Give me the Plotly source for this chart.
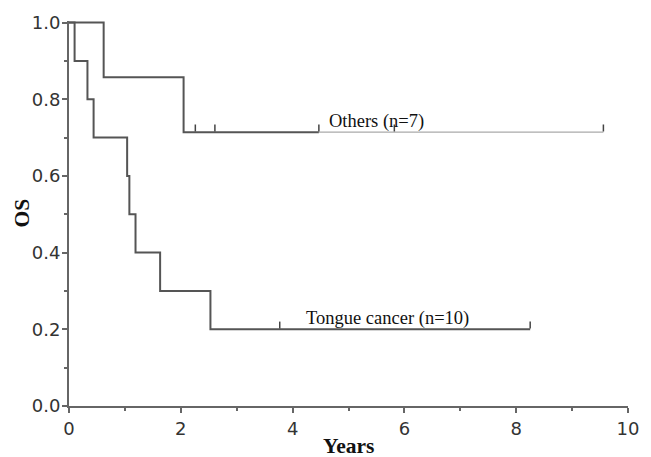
import plotly.graph_objects as go

# ---- data ----
others_event_times = [0.0, 0.62, 2.05]
others_survival = [1.0, 0.857, 0.714]
others_end_time = 9.56
others_censor_times = [2.26, 2.61, 4.47, 5.82, 9.56]

tongue_event_times = [0.0, 0.10, 0.33, 0.44, 1.04, 1.08, 1.19, 1.63, 2.53]
tongue_survival = [1.0, 0.9, 0.8, 0.7, 0.6, 0.5, 0.4, 0.3, 0.2]
tongue_end_time = 8.25
tongue_censor_times = [3.77, 8.25]

x_ticks = [0, 2, 4, 6, 8, 10]
y_ticks = [0.0, 0.2, 0.4, 0.6, 0.8, 1.0]
others_label = "Others (n=7)"
tongue_label = "Tongue cancer (n=10)"


def step_path(times, surv, end):
    xs, ys = [], []
    for i, (t, s) in enumerate(zip(times, surv)):
        if i > 0:
            xs.append(t)
            ys.append(surv[i - 1])
        xs.append(t)
        ys.append(s)
    xs.append(end)
    ys.append(surv[-1])
    return xs, ys


def surv_at(times, surv, t):
    v = surv[0]
    for tt, s in zip(times, surv):
        if tt <= t:
            v = s
    return v


LINE = "#555555"
fig = go.Figure()

# Others curve: dark part up to the label, lighter tail afterwards
ox, oy = step_path(others_event_times, others_survival, others_end_time)
split = others_censor_times[2]
dark_x = [x for x in ox if x <= split] + [split]
dark_y = [y for x, y in zip(ox, oy) if x <= split] + [surv_at(others_event_times, others_survival, split)]
fig.add_trace(go.Scatter(x=dark_x, y=dark_y, mode="lines",
                         line=dict(color=LINE, width=2), hoverinfo="skip"))
fig.add_trace(go.Scatter(x=[split, others_end_time],
                         y=[others_survival[-1]] * 2, mode="lines",
                         line=dict(color="#aaaaaa", width=1.3), hoverinfo="skip"))

tx, ty = step_path(tongue_event_times, tongue_survival, tongue_end_time)
fig.add_trace(go.Scatter(x=tx, y=ty, mode="lines",
                         line=dict(color=LINE, width=2), hoverinfo="skip"))

# censor marks (small vertical ticks just above the curves)
off = 0.011
fig.add_trace(go.Scatter(
    x=others_censor_times,
    y=[surv_at(others_event_times, others_survival, t) + off for t in others_censor_times],
    mode="markers",
    marker=dict(symbol="line-ns", size=5, line=dict(color="#444444", width=1.5)),
    hoverinfo="skip", cliponaxis=False))
fig.add_trace(go.Scatter(
    x=tongue_censor_times,
    y=[surv_at(tongue_event_times, tongue_survival, t) + off for t in tongue_censor_times],
    mode="markers",
    marker=dict(symbol="line-ns", size=5, line=dict(color="#444444", width=1.5)),
    hoverinfo="skip", cliponaxis=False))

serif = "Liberation Serif, Times New Roman, serif"
annotations = [
    dict(x=4.62, y=others_survival[-1], text=others_label, showarrow=False,
         xanchor="left", yanchor="bottom", yshift=-2,
         font=dict(family=serif, size=18.5, color="#111111")),
    dict(x=4.2, y=tongue_survival[-1], text=tongue_label, showarrow=False,
         xanchor="left", yanchor="bottom", yshift=-2,
         font=dict(family=serif, size=18.5, color="#111111")),
    dict(x=0.5, y=0, xref="paper", yref="paper", text="<b>Years</b>",
         showarrow=False, xanchor="center", yanchor="top", yshift=-26,
         font=dict(family=serif, size=21.5, color="#111111")),
    dict(x=0, y=0.5, xref="paper", yref="paper", text="<b>OS</b>",
         showarrow=False, xanchor="center", yanchor="middle", xshift=-48,
         textangle=-90, font=dict(family=serif, size=21.5, color="#111111")),
]

axis_common = dict(
    showline=True, linecolor="#666666", linewidth=2,
    ticks="outside", ticklen=5, tickwidth=1.5, tickcolor="#666666",
    showgrid=False, zeroline=False,
    tickfont=dict(family="DejaVu Sans, Verdana, sans-serif", size=18, color="#333333"),
)

fig.update_layout(
    width=651, height=457,
    margin=dict(l=69, r=22, t=17, b=51),
    paper_bgcolor="white", plot_bgcolor="white",
    showlegend=False,
    annotations=annotations,
    xaxis=dict(range=[0, 10], tickvals=x_ticks, ticktext=[str(v) for v in x_ticks],
               minor=dict(dtick=1, ticks="outside", ticklen=3, tickcolor="#666666"),
               **axis_common),
    yaxis=dict(range=[0, 1.004], tickvals=y_ticks, ticktext=[f"{v:.1f}" for v in y_ticks],
               minor=dict(dtick=0.1, ticks="outside", ticklen=3, tickcolor="#666666"),
               ticklabelstandoff=-2,
               **axis_common),
)

fig.write_html("out.html")
